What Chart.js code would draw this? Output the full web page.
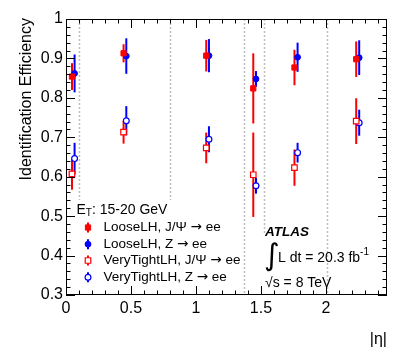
<!DOCTYPE html>
<html><head><meta charset="utf-8">
<script src="https://cdn.jsdelivr.net/npm/chart.js@4/dist/chart.umd.min.js"></script>
<style>html,body{margin:0;padding:0;background:#fff;}canvas{display:block;}</style>
</head><body>
<canvas id="c" width="407" height="355"></canvas>
<script>
// ---- data ----
const etaJpsi = [0.046, 0.443, 1.079, 1.441, 1.758, 2.233];
const etaZ    = [0.066, 0.464, 1.100, 1.462, 1.782, 2.256];
const looseJpsi    = [0.854, 0.913, 0.907, 0.824, 0.877, 0.898];
const looseJpsiErr = [0.034, 0.023, 0.040, 0.089, 0.045, 0.045];
const looseZ       = [0.862, 0.906, 0.907, 0.848, 0.903, 0.902];
const looseZErr    = [0.048, 0.045, 0.042, 0.020, 0.037, 0.044];
const vtJpsi       = [0.607, 0.713, 0.673, 0.605, 0.623, 0.741];
const vtJpsiErr    = [0.040, 0.029, 0.039, 0.107, 0.046, 0.058];
const vtZ          = [0.646, 0.742, 0.695, 0.577, 0.661, 0.737];
const vtZErr       = [0.040, 0.037, 0.033, 0.020, 0.025, 0.033];
const binEdges = [0.1, 0.8, 1.37, 1.52, 2.01];
const xTicks = [0, 0.5, 1, 1.5, 2];
const yTicks = [0.3, 0.4, 0.5, 0.6, 0.7, 0.8, 0.9, 1.0];
const seriesLabels = ['LooseLH, J/\u03A8 \u2192 ee', 'LooseLH, Z \u2192 ee', 'VeryTightLH, J/\u03A8 \u2192 ee', 'VeryTightLH, Z \u2192 ee'];
const xTitle = '|\u03B7|';
const yTitle = 'Identification Efficiency';

const RED = '#ff0000', BLUE = '#0000ff';
const FONT = '"Liberation Sans", Arial, sans-serif';

function pts(xs, ys, es) { return xs.map((x, i) => ({x: x, y: ys[i], err: es[i]})); }

const datasets = [
  {label: seriesLabels[0], data: pts(etaJpsi, looseJpsi, looseJpsiErr), pointStyle: 'rect', pointRadius: 3.7, backgroundColor: RED, borderColor: RED, borderWidth: 1},
  {label: seriesLabels[1], data: pts(etaZ, looseZ, looseZErr), pointStyle: 'circle', pointRadius: 2.9, backgroundColor: BLUE, borderColor: BLUE, borderWidth: 1},
  {label: seriesLabels[2], data: pts(etaJpsi, vtJpsi, vtJpsiErr), pointStyle: 'rect', pointRadius: 3.9, backgroundColor: '#fff', borderColor: RED, borderWidth: 1.2},
  {label: seriesLabels[3], data: pts(etaZ, vtZ, vtZErr), pointStyle: 'circle', pointRadius: 2.9, backgroundColor: '#fff', borderColor: BLUE, borderWidth: 1.2}
];

function drawRich(ctx, text, x, y, size) {
  // draws text, using DejaVu Sans for the arrow glyph
  const parts = text.split('\u2192');
  let cx = x;
  parts.forEach((p, i) => {
    ctx.font = size + 'px ' + FONT;
    ctx.fillText(p, cx, y);
    cx += ctx.measureText(p).width;
    if (i < parts.length - 1) {
      ctx.font = size + 'px "DejaVu Sans", sans-serif';
      ctx.fillText('\u2192', cx, y);
      cx += ctx.measureText('\u2192').width;
    }
  });
}

const decor = {
  id: 'decor',
  beforeDatasetsDraw(chart) {
    const ctx = chart.ctx, a = chart.chartArea, xs = chart.scales.x, ys = chart.scales.y;
    ctx.save();
    // bin boundaries
    ctx.strokeStyle = '#bdbdbd'; ctx.lineWidth = 1.5; ctx.setLineDash([2, 2]);
    binEdges.forEach(e => {
      const px = Math.round(xs.getPixelForValue(e)) + 0.5;
      ctx.beginPath(); ctx.moveTo(px, a.top); ctx.lineTo(px, a.bottom); ctx.stroke();
    });
    ctx.setLineDash([]);
    // legend / label boxes (white fill)
    ctx.fillStyle = '#fff';
    ctx.fillRect(67, 200, 173, 94);
    ctx.fillRect(256, 233, 66, 61);
    // error bars
    chart.data.datasets.forEach(ds => {
      ctx.strokeStyle = ds.borderColor; ctx.lineWidth = 2;
      ds.data.forEach(p => {
        const px = xs.getPixelForValue(p.x);
        ctx.beginPath();
        ctx.moveTo(px, ys.getPixelForValue(p.y + p.err));
        ctx.lineTo(px, ys.getPixelForValue(p.y - p.err));
        ctx.stroke();
      });
    });
    ctx.restore();
  },
  afterDatasetsDraw(chart) {
    const ctx = chart.ctx, a = chart.chartArea, xs = chart.scales.x, ys = chart.scales.y;
    ctx.save();
    // frame
    ctx.strokeStyle = '#000'; ctx.lineWidth = 1;
    ctx.strokeRect(Math.round(a.left) + 0.5, Math.round(a.top) + 0.5, Math.round(a.right - a.left) - 1, Math.round(a.bottom - a.top) - 1);
    // inner ticks
    ctx.beginPath();
    for (let k = 0; k <= 24; k++) {
      const v = k / 10;
      const px = Math.round(xs.getPixelForValue(v)) + 0.5;
      const len = (k % 5 === 0) ? 9 : 4.5;
      ctx.moveTo(px, a.bottom); ctx.lineTo(px, a.bottom - len);
      ctx.moveTo(px, a.top); ctx.lineTo(px, a.top + len);
    }
    for (let k = 15; k <= 50; k++) {
      const v = k / 50;
      const py = Math.round(ys.getPixelForValue(v)) + 0.5;
      const len = (k % 5 === 0) ? 9 : 4.5;
      ctx.moveTo(a.left, py); ctx.lineTo(a.left + len, py);
      ctx.moveTo(a.right, py); ctx.lineTo(a.right - len, py);
    }
    ctx.stroke();

    // axis titles
    ctx.fillStyle = '#000';
    ctx.font = '16px ' + FONT;
    ctx.textAlign = 'right'; ctx.textBaseline = 'middle';
    ctx.fillText(xTitle, a.right, 340);
    ctx.save();
    ctx.translate(27, a.top - 1);
    ctx.rotate(-Math.PI / 2);
    ctx.textAlign = 'right';
    ctx.fillText(yTitle, 0, 0);
    ctx.restore();

    // legend
    ctx.textAlign = 'left'; ctx.textBaseline = 'middle';
    ctx.font = '14px ' + FONT;
    ctx.fillText('E', 76.5, 210);
    let w = ctx.measureText('E').width;
    ctx.font = '10px ' + FONT;
    ctx.fillText('T', 76.5 + w, 213.5);
    const wt = ctx.measureText('T').width;
    ctx.font = '14px ' + FONT;
    ctx.fillText(': 15-20 GeV', 76.5 + w + wt, 210);
    const rows = [227.5, 244.2, 260.5, 277.3];
    chart.data.datasets.forEach((ds, i) => {
      const y = rows[i], mx = 88;
      ctx.strokeStyle = ds.borderColor; ctx.lineWidth = 2;
      ctx.beginPath(); ctx.moveTo(mx, y - 5); ctx.lineTo(mx, y + 5); ctx.stroke();
      ctx.fillStyle = ds.backgroundColor; ctx.strokeStyle = ds.borderColor; ctx.lineWidth = ds.borderWidth;
      Chart.helpers.drawPoint(ctx, {pointStyle: ds.pointStyle, radius: ds.pointRadius, rotation: 0, borderWidth: ds.borderWidth}, mx, y);
      ctx.fillStyle = '#000';
      drawRich(ctx, ds.label, 103.5, y, 13.5);
    });

    // ATLAS label
    ctx.font = 'italic bold 13.5px ' + FONT;
    ctx.fillText('ATLAS', 265, 232);
    ctx.font = '30px "DejaVu Sans", sans-serif';
    ctx.fillText('\u222B', 264, 257);
    ctx.font = '14px ' + FONT;
    ctx.fillText('L dt = 20.3 fb', 278, 258);
    const wf = ctx.measureText('L dt = 20.3 fb').width;
    ctx.font = '10px ' + FONT;
    ctx.fillText('-1', 278 + wf, 252);
    ctx.font = '14px ' + FONT;
    ctx.fillText('\u221As = 8 TeV', 265, 283);
    ctx.restore();
  }
};

new Chart(document.getElementById('c'), {
  type: 'scatter',
  data: {datasets: datasets},
  plugins: [decor],
  options: {
    responsive: false,
    devicePixelRatio: 1,
    animation: false,
    layout: {padding: {top: 19, right: 20, left: 0, bottom: 0}},
    plugins: {legend: {display: false}, tooltip: {enabled: false}},
    scales: {
      x: {
        type: 'linear', min: 0, max: 2.47,
        afterFit: s => { s.height = 60; },
        afterBuildTicks: s => { s.ticks = xTicks.map(v => ({value: v})); },
        grid: {display: false, drawTicks: false},
        border: {display: false},
        ticks: {color: '#000', font: {family: FONT, size: 16}, padding: 4, maxRotation: 0, autoSkip: false,
                callback: v => String(v)}
      },
      y: {
        type: 'linear', min: 0.3, max: 1.0,
        afterFit: s => { s.width = 66; },
        afterBuildTicks: s => { s.ticks = yTicks.map(v => ({value: v})); },
        grid: {display: false, drawTicks: false},
        border: {display: false},
        ticks: {color: '#000', font: {family: FONT, size: 16}, padding: 3, autoSkip: false,
                callback: v => String(Math.round(v * 10) / 10)}
      }
    }
  }
});
</script>
</body></html>
